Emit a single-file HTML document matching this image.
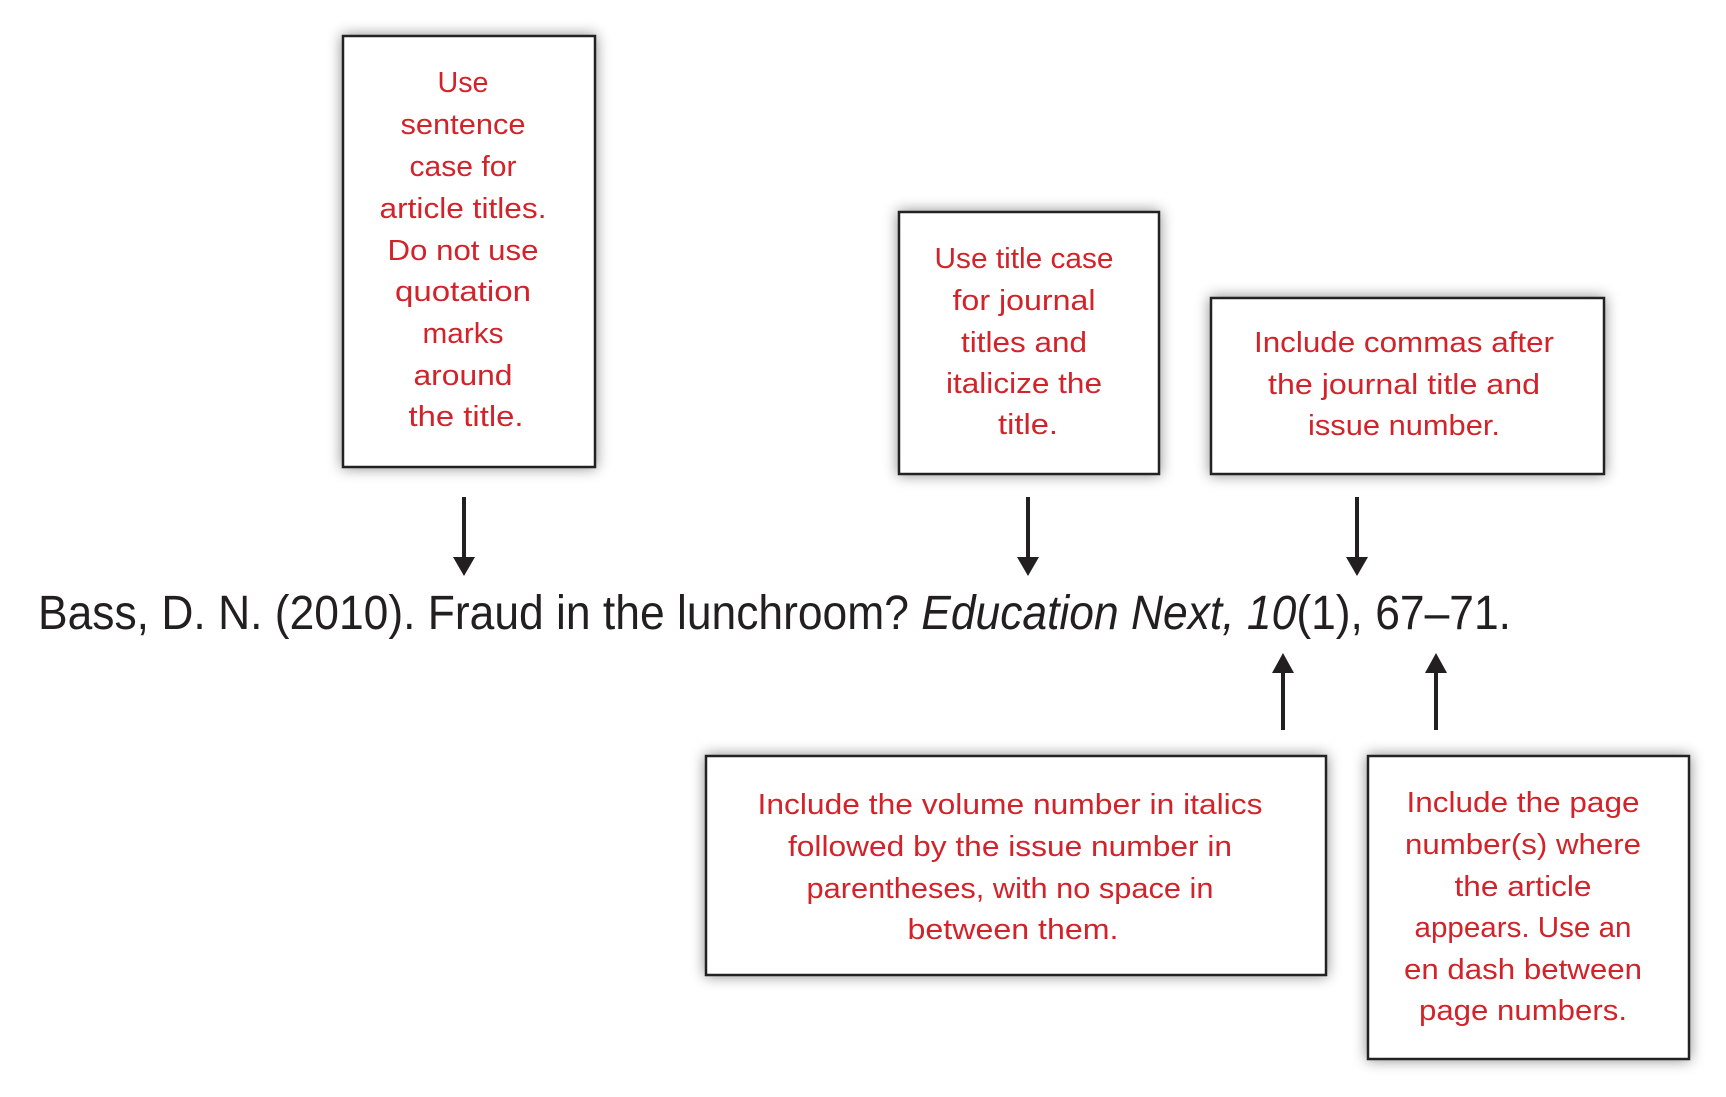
<!DOCTYPE html>
<html><head><meta charset="utf-8"><style>
html,body{margin:0;padding:0;background:#fff;}
svg{display:block;}
.r{font-family:"Liberation Sans",sans-serif;font-size:29px;fill:#d2232a;text-anchor:middle;}
</style></head><body>
<svg width="1726" height="1097" viewBox="0 0 1726 1097" xmlns="http://www.w3.org/2000/svg">
<defs>
<filter id="sh" x="-20%" y="-20%" width="140%" height="140%">
<feDropShadow dx="0" dy="0" stdDeviation="7" flood-color="#000" flood-opacity="0.45"/>
</filter>
</defs>
<g fill="#fff" stroke="#222" stroke-width="2.5" filter="url(#sh)">
<rect x="343" y="36" width="252" height="431"/>
<rect x="899" y="212" width="260" height="262"/>
<rect x="1211" y="298" width="393" height="176"/>
<rect x="706" y="756" width="620" height="219"/>
<rect x="1368" y="756" width="321" height="303"/>
</g>
<g class="r">
<text x="463" y="92" textLength="51" lengthAdjust="spacingAndGlyphs">Use</text>
<text x="463" y="134" textLength="125" lengthAdjust="spacingAndGlyphs">sentence</text>
<text x="463" y="176" textLength="107" lengthAdjust="spacingAndGlyphs">case for</text>
<text x="463" y="218" textLength="167" lengthAdjust="spacingAndGlyphs">article titles.</text>
<text x="463" y="260" textLength="151" lengthAdjust="spacingAndGlyphs">Do not use</text>
<text x="463" y="301" textLength="136" lengthAdjust="spacingAndGlyphs">quotation</text>
<text x="463" y="343" textLength="81" lengthAdjust="spacingAndGlyphs">marks</text>
<text x="463" y="385" textLength="99" lengthAdjust="spacingAndGlyphs">around</text>
<text x="466" y="426" textLength="115" lengthAdjust="spacingAndGlyphs">the title.</text>

<text x="1024" y="268" textLength="179" lengthAdjust="spacingAndGlyphs">Use title case</text>
<text x="1024" y="310" textLength="143" lengthAdjust="spacingAndGlyphs">for journal</text>
<text x="1024" y="352" textLength="126" lengthAdjust="spacingAndGlyphs">titles and</text>
<text x="1024" y="393" textLength="156" lengthAdjust="spacingAndGlyphs">italicize the</text>
<text x="1028" y="434" textLength="60" lengthAdjust="spacingAndGlyphs">title.</text>

<text x="1404" y="352" textLength="300" lengthAdjust="spacingAndGlyphs">Include commas after</text>
<text x="1404" y="394" textLength="272" lengthAdjust="spacingAndGlyphs">the journal title and</text>
<text x="1404" y="435" textLength="192" lengthAdjust="spacingAndGlyphs">issue number.</text>

<text x="1010" y="814" textLength="505" lengthAdjust="spacingAndGlyphs">Include the volume number in italics</text>
<text x="1010" y="856" textLength="444" lengthAdjust="spacingAndGlyphs">followed by the issue number in</text>
<text x="1010" y="898" textLength="407" lengthAdjust="spacingAndGlyphs">parentheses, with no space in</text>
<text x="1013" y="939" textLength="211" lengthAdjust="spacingAndGlyphs">between them.</text>

<text x="1523" y="812" textLength="233" lengthAdjust="spacingAndGlyphs">Include the page</text>
<text x="1523" y="854" textLength="236" lengthAdjust="spacingAndGlyphs">number(s) where</text>
<text x="1523" y="896" textLength="137" lengthAdjust="spacingAndGlyphs">the article</text>
<text x="1523" y="937" textLength="217" lengthAdjust="spacingAndGlyphs">appears. Use an</text>
<text x="1523" y="979" textLength="238" lengthAdjust="spacingAndGlyphs">en dash between</text>
<text x="1523" y="1020" textLength="208" lengthAdjust="spacingAndGlyphs">page numbers.</text>
</g>

<text x="38" y="629" font-family="Liberation Sans, sans-serif" font-size="48" fill="#231f20" textLength="1473" lengthAdjust="spacingAndGlyphs">Bass, D. N. (2010). Fraud in the lunchroom? <tspan font-style="italic">Education Next, 10</tspan>(1), 67–71.</text>

<g stroke="#231f20" stroke-width="4">
<line x1="464" y1="497" x2="464" y2="560"/>
<line x1="1028" y1="497" x2="1028" y2="560"/>
<line x1="1357" y1="497" x2="1357" y2="560"/>
<line x1="1283" y1="670" x2="1283" y2="730"/>
<line x1="1436" y1="670" x2="1436" y2="730"/>
</g>
<g fill="#231f20">
<polygon points="453,557 475,557 464,576"/>
<polygon points="1017,557 1039,557 1028,576"/>
<polygon points="1346,557 1368,557 1357,576"/>
<polygon points="1272,673 1294,673 1283,653"/>
<polygon points="1425,673 1447,673 1436,653"/>
</g>
</svg>
</body></html>
